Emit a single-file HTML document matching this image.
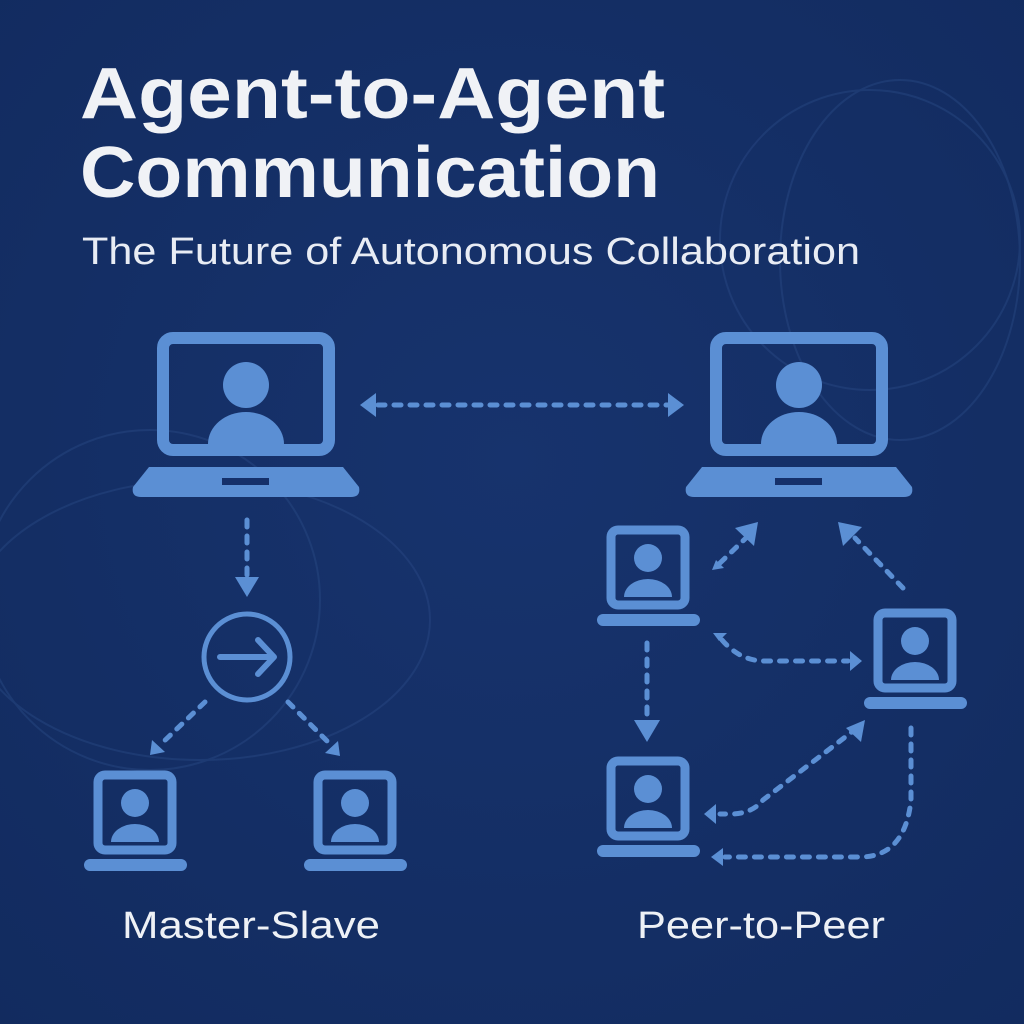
<!DOCTYPE html>
<html><head><meta charset="utf-8"><style>
html,body{margin:0;padding:0;background:#15306a;}
svg{display:block}
</style></head><body>
<svg width="1024" height="1024" viewBox="0 0 1024 1024" xmlns="http://www.w3.org/2000/svg">
<defs>
<radialGradient id="bg" cx="50%" cy="45%" r="75%">
<stop offset="0" stop-color="#17336d"/><stop offset="1" stop-color="#122b5f"/>
</radialGradient>
<g id="big">
<rect x="-83" y="-61" width="166" height="112" rx="10" fill="none" stroke="#5b8fd4" stroke-width="12"/>
<circle cx="0" cy="-14" r="23" fill="#5b8fd4"/>
<path d="M-38,45 A38,32 0 0 1 38,45 Z" fill="#5b8fd4"/>
<path d="M-97,68 L97,68 L113,88 Q115,98 105,98 L-105,98 Q-115,98 -113,88 Z" fill="#5b8fd4"/>
<rect x="-24" y="79" width="47" height="7" fill="#15306a"/>
</g>
<g id="sm">
<rect x="-37" y="-37" width="74" height="75" rx="7" fill="none" stroke="#5b8fd4" stroke-width="9"/>
<circle cx="0" cy="-9" r="14" fill="#5b8fd4"/>
<path d="M-24,30 A24,18 0 0 1 24,30 Z" fill="#5b8fd4"/>
<rect x="-51" y="47" width="103" height="12" rx="6" fill="#5b8fd4"/>
</g>
</defs>
<rect width="1024" height="1024" fill="url(#bg)"/>
<g fill="none" stroke="#2a4a85" stroke-width="2" opacity="0.45">
<circle cx="870" cy="240" r="150"/>
<ellipse cx="900" cy="260" rx="120" ry="180"/>
<circle cx="150" cy="600" r="170"/>
<ellipse cx="200" cy="620" rx="230" ry="140"/>
</g>
<text x="80" y="118" textLength="585" lengthAdjust="spacingAndGlyphs" font-family="Liberation Sans, sans-serif" font-weight="bold" font-size="72" fill="#f0f2f6">Agent-to-Agent</text>
<text x="80" y="197" textLength="580" lengthAdjust="spacingAndGlyphs" font-family="Liberation Sans, sans-serif" font-weight="bold" font-size="72" fill="#f0f2f6">Communication</text>
<text x="82" y="264" textLength="778" lengthAdjust="spacingAndGlyphs" font-family="Liberation Sans, sans-serif" font-size="38" fill="#e8ecf4">The Future of Autonomous Collaboration</text>

<use href="#big" x="246" y="399"/>
<use href="#big" x="799" y="399"/>
<use href="#sm" x="648" y="567"/>
<use href="#sm" x="915" y="650"/>
<use href="#sm" x="648" y="798"/>
<use href="#sm" x="135" y="812"/>
<use href="#sm" x="355" y="812"/>

<circle cx="247" cy="657" r="43" fill="none" stroke="#5b8fd4" stroke-width="5"/>
<path d="M220,657 H273 M258,640 L274,657 L258,674" fill="none" stroke="#5b8fd4" stroke-width="6" stroke-linecap="round" stroke-linejoin="round"/>

<g fill="none" stroke="#5b8fd4" stroke-width="5" stroke-linecap="round" stroke-dasharray="7 9">
<path d="M378,405 H668"/>
<path d="M247,520 V578"/>
<path d="M205,702 L160,745"/>
<path d="M288,702 L332,746"/>
<path d="M720,563 L748,536"/>
<path d="M903,588 L855,538"/>
<path d="M722,640 Q740,661 765,661 H848"/>
<path d="M647,643 V718"/>
<path d="M857,728 L763,800 Q752,814 730,814 H720"/>
<path d="M911,728 V800 Q905,857 860,857 H725"/>
</g>
<g fill="#5b8fd4">
<path d="M360,405 L376,393 L376,417 Z"/>
<path d="M684,405 L668,393 L668,417 Z"/>
<path d="M247,597 L235,577 L259,577 Z"/>
<path d="M150,755 L152,740 L165,752 Z"/>
<path d="M340,756 L338,741 L325,753 Z"/>
<path d="M758,522 L754,546 L735,528 Z"/>
<path d="M712,570 L716,560 L724,568 Z"/>
<path d="M838,522 L862,527 L843,546 Z"/>
<path d="M713,633 L727,633 L719,641 Z"/>
<path d="M862,661 L850,651 L850,671 Z"/>
<path d="M647,742 L634,720 L660,720 Z"/>
<path d="M865,720 L861,742 L846,728 Z"/>
<path d="M704,814 L716,804 L716,824 Z"/>
<path d="M711,857 L723,848 L723,866 Z"/>
</g>
<text x="122" y="938" textLength="258" lengthAdjust="spacingAndGlyphs" font-family="Liberation Sans, sans-serif" font-size="38" fill="#eef1f6">Master-Slave</text>
<text x="637" y="938" textLength="248" lengthAdjust="spacingAndGlyphs" font-family="Liberation Sans, sans-serif" font-size="38" fill="#eef1f6">Peer-to-Peer</text>
</svg>
</body></html>
